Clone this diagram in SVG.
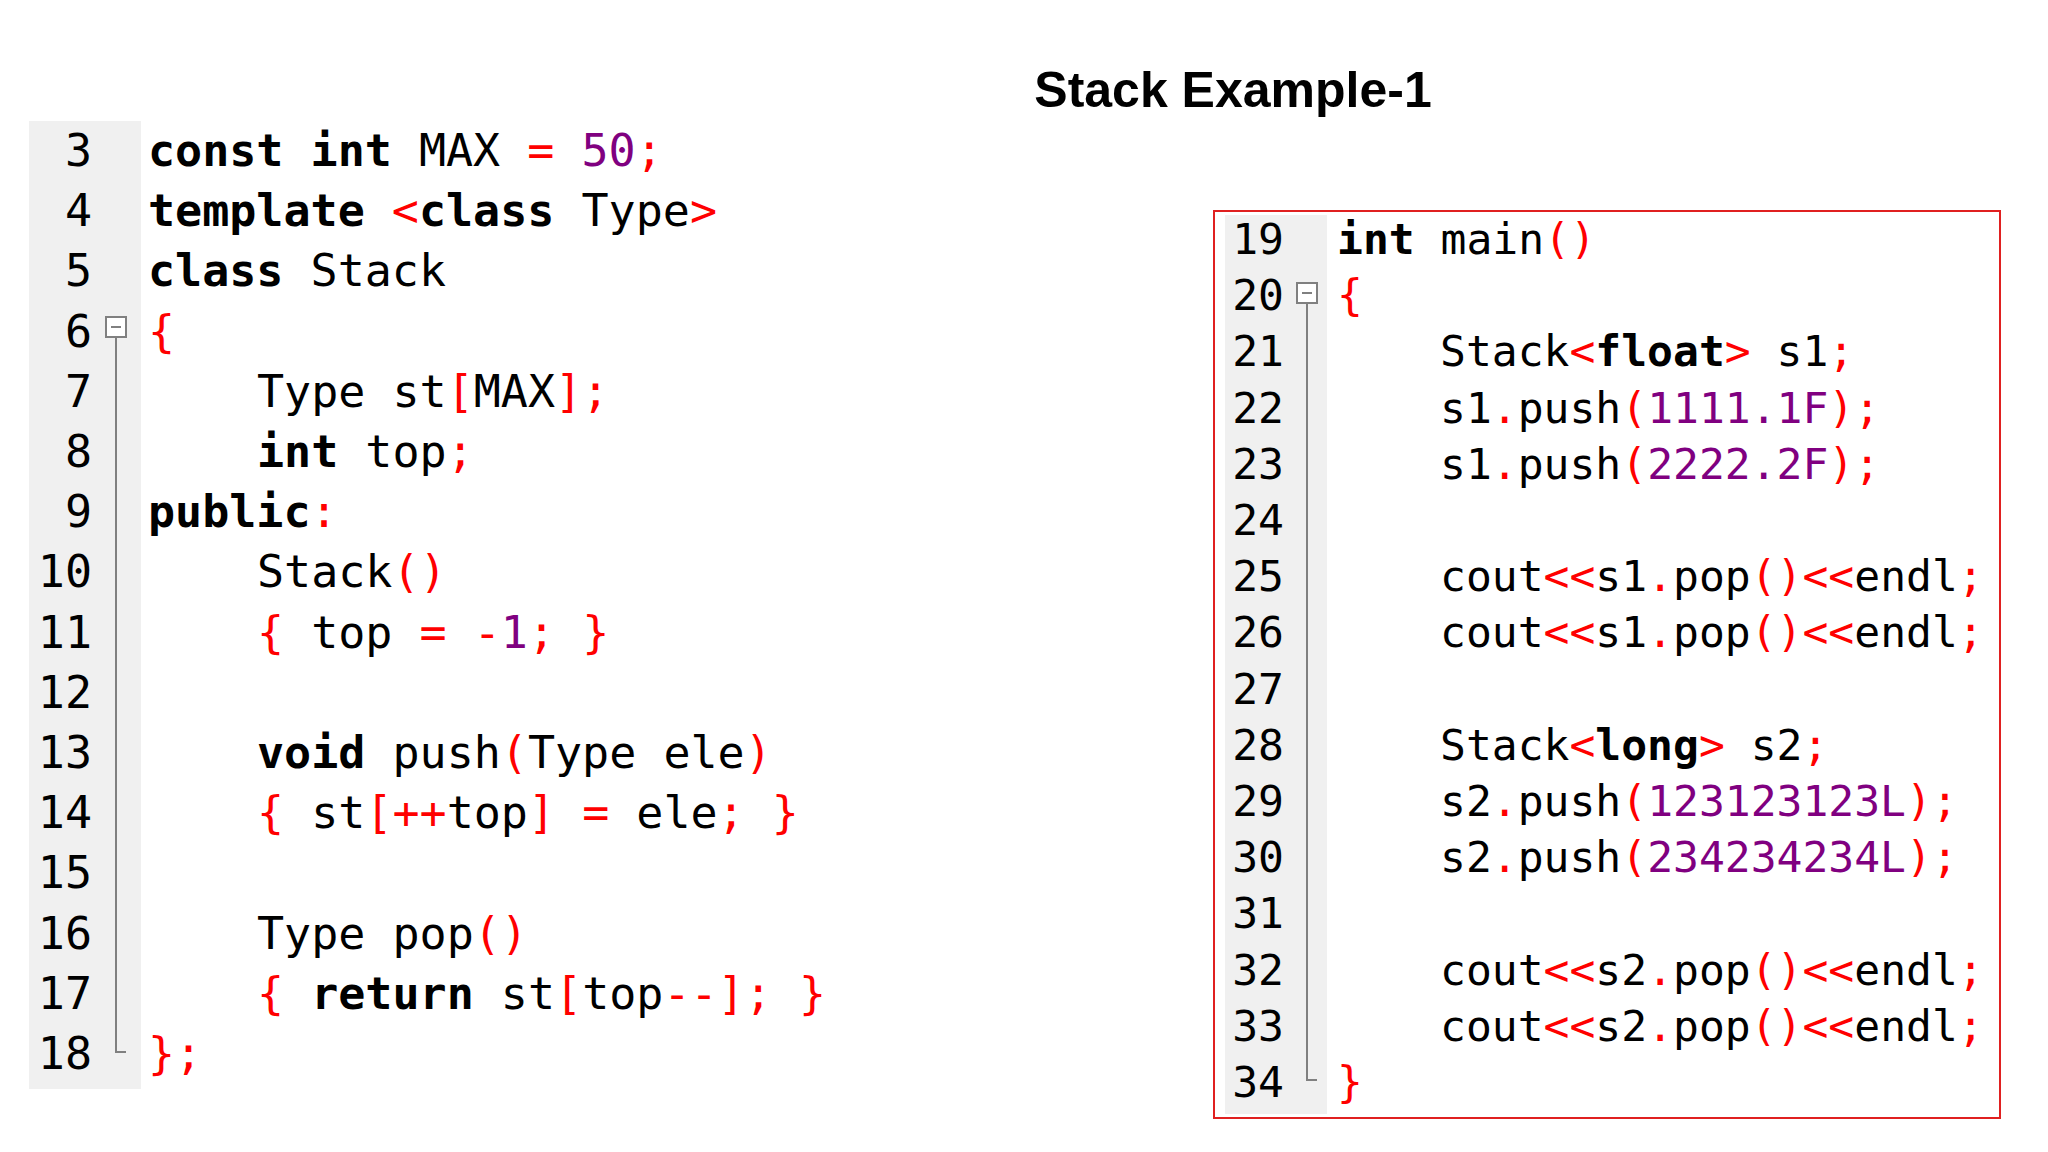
<svg xmlns="http://www.w3.org/2000/svg" width="2048" height="1152" viewBox="0 0 2048 1152">
<style>
text{font-family:"DejaVu Sans Mono","Liberation Mono",monospace;fill:#000}
.c1{font-size:45px}
.c2{font-size:43px}
.ln{text-anchor:end}
.k{font-weight:bold}
.r{fill:#ff0000}
.n{fill:#800080}
.fold{fill:#fff;stroke:#808080;stroke-width:2}
.fl{stroke:#808080;stroke-width:2;fill:none}
</style>
<rect width="2048" height="1152" fill="#fff"/>
<text x="1233" y="107" text-anchor="middle" style="font-family:'Liberation Sans',Arial,sans-serif;font-weight:bold;font-size:50px">Stack Example-1</text>
<g id="left-code">
<rect x="29" y="121" width="112" height="968" fill="#f0f0f0"/>
<g class="c1 ln">
<text x="92" y="166">3</text><text x="92" y="226">4</text><text x="92" y="286">5</text><text x="92" y="347">6</text>
<text x="92" y="407">7</text><text x="92" y="467">8</text><text x="92" y="527">9</text><text x="92" y="587">10</text>
<text x="92" y="648">11</text><text x="92" y="708">12</text><text x="92" y="768">13</text><text x="92" y="828">14</text>
<text x="92" y="888">15</text><text x="92" y="949">16</text><text x="92" y="1009">17</text><text x="92" y="1069">18</text>
</g>
<rect class="fold" x="106" y="317" width="20" height="20"/>
<path class="fl" d="M116 337V1052H126M111 327H121"/>
<g class="c1">
<text x="148" y="166" xml:space="preserve"><tspan class="k">const int</tspan> MAX <tspan class="r">=</tspan> <tspan class="n">50</tspan><tspan class="r">;</tspan></text>
<text x="148" y="226" xml:space="preserve"><tspan class="k">template</tspan> <tspan class="r">&lt;</tspan><tspan class="k">class</tspan> Type<tspan class="r">&gt;</tspan></text>
<text x="148" y="286" xml:space="preserve"><tspan class="k">class</tspan> Stack</text>
<text x="148" y="347" class="r">{</text>
<text x="257" y="407" xml:space="preserve">Type st<tspan class="r">[</tspan>MAX<tspan class="r">];</tspan></text>
<text x="257" y="467" xml:space="preserve"><tspan class="k">int</tspan> top<tspan class="r">;</tspan></text>
<text x="148" y="527" xml:space="preserve"><tspan class="k">public</tspan><tspan class="r">:</tspan></text>
<text x="257" y="587" xml:space="preserve">Stack<tspan class="r">()</tspan></text>
<text x="257" y="648" xml:space="preserve"><tspan class="r">{</tspan> top <tspan class="r">=</tspan> <tspan class="r">-</tspan><tspan class="n">1</tspan><tspan class="r">;</tspan> <tspan class="r">}</tspan></text>
<text x="257" y="768" xml:space="preserve"><tspan class="k">void</tspan> push<tspan class="r">(</tspan>Type ele<tspan class="r">)</tspan></text>
<text x="257" y="828" xml:space="preserve"><tspan class="r">{</tspan> st<tspan class="r">[++</tspan>top<tspan class="r">]</tspan> <tspan class="r">=</tspan> ele<tspan class="r">;</tspan> <tspan class="r">}</tspan></text>
<text x="257" y="949" xml:space="preserve">Type pop<tspan class="r">()</tspan></text>
<text x="257" y="1009" xml:space="preserve"><tspan class="r">{</tspan> <tspan class="k">return</tspan> st<tspan class="r">[</tspan>top<tspan class="r">--];</tspan> <tspan class="r">}</tspan></text>
<text x="148" y="1069" class="r">};</text>
</g>
</g>
<g id="right-code">
<rect x="1214" y="211" width="786" height="907" fill="#fff" stroke="#e02020" stroke-width="2"/>
<rect x="1225" y="215" width="102" height="899" fill="#f0f0f0"/>
<g class="c2 ln">
<text x="1284" y="254">19</text><text x="1284" y="310">20</text><text x="1284" y="366">21</text><text x="1284" y="423">22</text>
<text x="1284" y="479">23</text><text x="1284" y="535">24</text><text x="1284" y="591">25</text><text x="1284" y="647">26</text>
<text x="1284" y="704">27</text><text x="1284" y="760">28</text><text x="1284" y="816">29</text><text x="1284" y="872">30</text>
<text x="1284" y="928">31</text><text x="1284" y="985">32</text><text x="1284" y="1041">33</text><text x="1284" y="1097">34</text>
</g>
<rect class="fold" x="1297" y="283" width="20" height="20"/>
<path class="fl" d="M1307 303V1080H1317M1302 293H1312"/>
<g class="c2">
<text x="1337" y="254" xml:space="preserve"><tspan class="k">int</tspan> main<tspan class="r">()</tspan></text>
<text x="1337" y="310" class="r">{</text>
<text x="1440" y="366" xml:space="preserve">Stack<tspan class="r">&lt;</tspan><tspan class="k">float</tspan><tspan class="r">&gt;</tspan> s1<tspan class="r">;</tspan></text>
<text x="1440" y="423" xml:space="preserve">s1<tspan class="r">.</tspan>push<tspan class="r">(</tspan><tspan class="n">1111.1F</tspan><tspan class="r">);</tspan></text>
<text x="1440" y="479" xml:space="preserve">s1<tspan class="r">.</tspan>push<tspan class="r">(</tspan><tspan class="n">2222.2F</tspan><tspan class="r">);</tspan></text>
<text x="1440" y="591" xml:space="preserve">cout<tspan class="r">&lt;&lt;</tspan>s1<tspan class="r">.</tspan>pop<tspan class="r">()&lt;&lt;</tspan>endl<tspan class="r">;</tspan></text>
<text x="1440" y="647" xml:space="preserve">cout<tspan class="r">&lt;&lt;</tspan>s1<tspan class="r">.</tspan>pop<tspan class="r">()&lt;&lt;</tspan>endl<tspan class="r">;</tspan></text>
<text x="1440" y="760" xml:space="preserve">Stack<tspan class="r">&lt;</tspan><tspan class="k">long</tspan><tspan class="r">&gt;</tspan> s2<tspan class="r">;</tspan></text>
<text x="1440" y="816" xml:space="preserve">s2<tspan class="r">.</tspan>push<tspan class="r">(</tspan><tspan class="n">123123123L</tspan><tspan class="r">);</tspan></text>
<text x="1440" y="872" xml:space="preserve">s2<tspan class="r">.</tspan>push<tspan class="r">(</tspan><tspan class="n">234234234L</tspan><tspan class="r">);</tspan></text>
<text x="1440" y="985" xml:space="preserve">cout<tspan class="r">&lt;&lt;</tspan>s2<tspan class="r">.</tspan>pop<tspan class="r">()&lt;&lt;</tspan>endl<tspan class="r">;</tspan></text>
<text x="1440" y="1041" xml:space="preserve">cout<tspan class="r">&lt;&lt;</tspan>s2<tspan class="r">.</tspan>pop<tspan class="r">()&lt;&lt;</tspan>endl<tspan class="r">;</tspan></text>
<text x="1337" y="1097" class="r">}</text>
</g>
</g>
</svg>
